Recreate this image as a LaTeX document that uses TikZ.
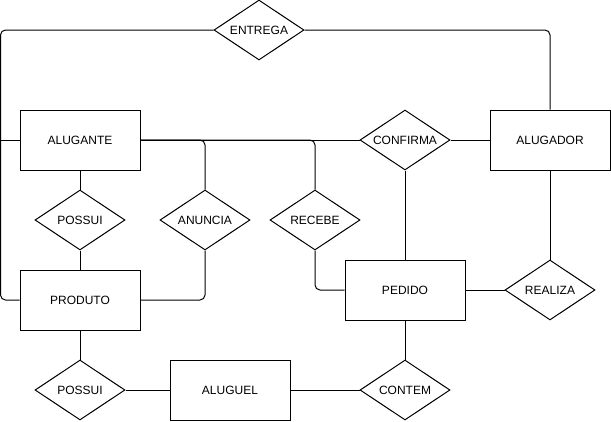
\documentclass[tikz,border=0pt]{standalone}
\usepackage{fontspec}
\setmainfont{Liberation Sans}
\usetikzlibrary{shapes.geometric,positioning}

\begin{document}
\begin{tikzpicture}[x=1pt,y=1pt,node distance=80pt,on grid,line width=1pt,
    font=\fontsize{12}{14}\selectfont,
    entidade/.style={draw,rectangle,minimum width=120pt,minimum height=60pt,inner sep=0pt},
    relacao/.style={draw,diamond,aspect=1.5,minimum width=90pt,minimum height=60pt,inner sep=0pt}]
\useasboundingbox (0,0) rectangle (611,-421);
               \node[entidade] (alugante) at (80,-140) {ALUGANTE};
               \node[relacao] (possui_1) [below=of alugante] {POSSUI};
               \node[entidade] (produto) [below=of possui_1] {PRODUTO};
               \node[relacao] (possui_2) [below=90pt of produto] {POSSUI};
               \node[entidade] (aluguel) [right=150pt of possui_2] {ALUGUEL};
               \node[relacao] (contem) [right=175pt of aluguel] {CONTEM};
               \node[entidade] (pedido) [above=100pt of contem] {PEDIDO};
               \node[relacao] (realiza) [right=145pt of pedido] {REALIZA};
               \node[entidade] (alugador) [above=150pt of realiza] {ALUGADOR};
               \node[relacao] (confirma) [left=145pt of alugador] {CONFIRMA};
               \node[relacao] (anuncia) [right=125pt of possui_1] {ANUNCIA};
               \node[relacao] (recebe) [right=110pt of anuncia] {RECEBE};
               \node[relacao] (entrega) at (259,-30) {ENTREGA};
               \coordinate (canto) at (0.5,-30);
		\path[draw]
			(alugante)	edge (possui_1)
					edge (confirma)
			(possui_1)	edge (produto)
			(produto)	edge (possui_2)
			(possui_2)	edge (aluguel)
			(aluguel)	edge (contem)
			(contem)	edge (pedido)
			(confirma)	edge (alugador)
					edge (pedido)
			(alugador)	edge (realiza)
			(realiza)	edge (pedido);
		\draw[rounded corners=5pt] (alugante.east) -| (anuncia.north);
		\draw[rounded corners=5pt] (alugante.east) -| (recebe.north);
		\draw[rounded corners=5pt] (anuncia.south) |- (produto.east);
		\draw[rounded corners=5pt] (recebe.south) |- (pedido.west);
		\draw[rounded corners=5pt] (entrega.east) -| (alugador.north);
		\draw[rounded corners=5pt] (entrega.west) -- (canto) |- (produto.west);
		\draw (alugante.west) -- (alugante.west -| canto);
            \end{tikzpicture}
\end{document}
